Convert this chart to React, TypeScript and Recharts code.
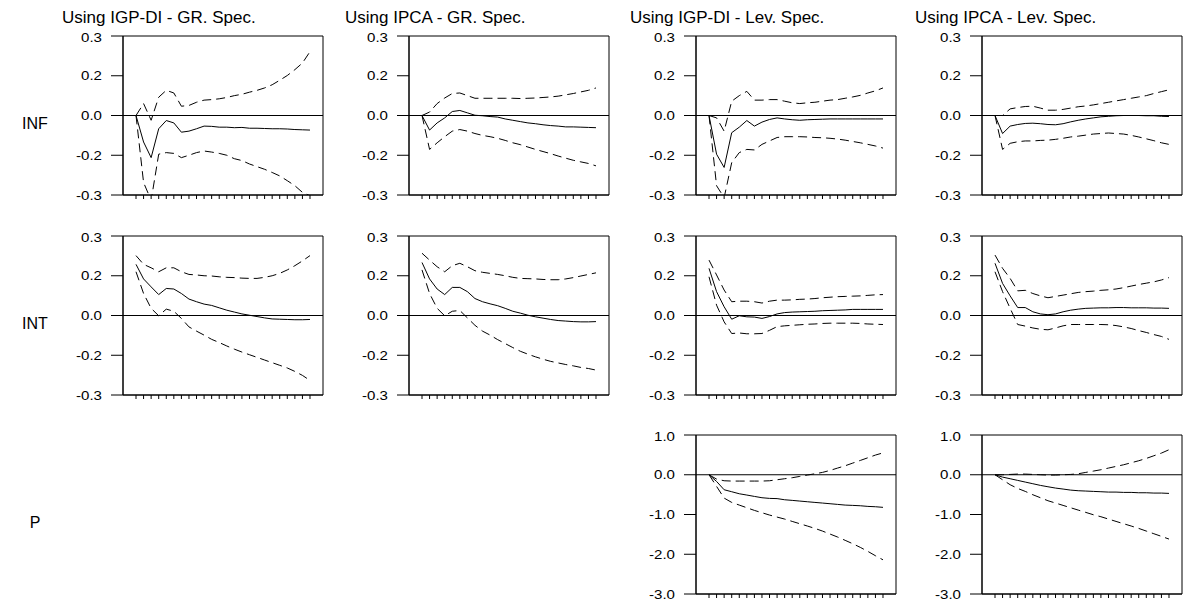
import React from 'react';
import { LineChart, Line, XAxis, YAxis, ReferenceLine, ReferenceArea } from 'recharts';

// horizon: 24 periods after the shock
const periods = [1, 2, 3, 4, 5, 6, 7, 8, 9, 10, 11, 12, 13, 14, 15, 16, 17, 18, 19, 20, 21, 22, 23, 24];

const colTitles = ['Using IGP-DI - GR. Spec.', 'Using IPCA - GR. Spec.', 'Using IGP-DI - Lev. Spec.', 'Using IPCA - Lev. Spec.'];
const rowNames = ['INF', 'INT', 'P'];

const smallTicks = [-0.3, -0.15, 0, 0.15, 0.3];
const smallTickLabels = ['-0.3', '-0.2', '0.0', '0.2', '0.3'];
const bigTicks = [-3, -2, -1, 0, 1];
const bigTickLabels = ['-3.0', '-2.0', '-1.0', '0.0', '1.0'];

// INF responses
const infIgpGr = [0, -0.1, -0.159, -0.05, -0.019, -0.028, -0.063, -0.059, -0.05, -0.04, -0.041, -0.044, -0.044, -0.046, -0.045, -0.048, -0.048, -0.049, -0.05, -0.05, -0.051, -0.053, -0.054, -0.055];
const infIgpGrHi = [0, 0.045, -0.018, 0.069, 0.095, 0.085, 0.035, 0.038, 0.05, 0.058, 0.06, 0.063, 0.068, 0.075, 0.08, 0.088, 0.095, 0.104, 0.116, 0.133, 0.151, 0.173, 0.198, 0.241];
const infIgpGrLo = [0, -0.253, -0.32, -0.146, -0.14, -0.143, -0.159, -0.15, -0.14, -0.134, -0.138, -0.143, -0.15, -0.163, -0.17, -0.183, -0.193, -0.203, -0.215, -0.228, -0.246, -0.265, -0.29, -0.303];

const infIpcaGr = [0, -0.055, -0.028, -0.009, 0.015, 0.019, 0.01, 0.001, -0.001, -0.004, -0.006, -0.013, -0.018, -0.023, -0.028, -0.031, -0.035, -0.038, -0.04, -0.043, -0.043, -0.044, -0.045, -0.046];
const infIpcaGrHi = [0, 0.013, 0.045, 0.066, 0.083, 0.085, 0.075, 0.065, 0.065, 0.065, 0.065, 0.065, 0.065, 0.064, 0.065, 0.066, 0.068, 0.07, 0.073, 0.078, 0.083, 0.089, 0.095, 0.104];
const infIpcaGrLo = [0, -0.128, -0.103, -0.08, -0.059, -0.053, -0.059, -0.068, -0.075, -0.08, -0.086, -0.094, -0.103, -0.11, -0.119, -0.128, -0.136, -0.144, -0.153, -0.161, -0.169, -0.175, -0.181, -0.19];

const infIgpLev = [0, -0.146, -0.196, -0.065, -0.044, -0.019, -0.04, -0.025, -0.015, -0.009, -0.013, -0.016, -0.018, -0.016, -0.015, -0.014, -0.013, -0.013, -0.013, -0.013, -0.013, -0.013, -0.013, -0.013];
const infIgpLevHi = [0, -0.009, -0.059, 0.054, 0.075, 0.091, 0.058, 0.058, 0.06, 0.06, 0.054, 0.048, 0.045, 0.048, 0.05, 0.054, 0.058, 0.06, 0.065, 0.07, 0.076, 0.085, 0.093, 0.104];
const infIgpLevLo = [0, -0.265, -0.31, -0.178, -0.14, -0.128, -0.13, -0.109, -0.096, -0.083, -0.08, -0.08, -0.08, -0.081, -0.083, -0.084, -0.086, -0.089, -0.093, -0.098, -0.103, -0.109, -0.115, -0.123];

const infIpcaLev = [0, -0.068, -0.04, -0.034, -0.03, -0.029, -0.031, -0.034, -0.035, -0.031, -0.024, -0.018, -0.013, -0.009, -0.005, -0.003, -0.001, 0, 0, 0, -0.001, -0.001, -0.003, -0.004];
const infIpcaLevHi = [0, 0, 0.025, 0.03, 0.034, 0.035, 0.028, 0.02, 0.02, 0.023, 0.028, 0.033, 0.036, 0.04, 0.045, 0.05, 0.055, 0.06, 0.065, 0.07, 0.075, 0.083, 0.09, 0.097];
const infIpcaLevLo = [0, -0.128, -0.105, -0.099, -0.096, -0.096, -0.094, -0.093, -0.09, -0.086, -0.081, -0.078, -0.074, -0.07, -0.068, -0.066, -0.068, -0.07, -0.075, -0.081, -0.088, -0.095, -0.103, -0.109];

// INT responses
const intIgpGr = [0.193, 0.138, 0.108, 0.079, 0.102, 0.1, 0.083, 0.062, 0.052, 0.043, 0.038, 0.029, 0.02, 0.013, 0.006, 0.001, -0.004, -0.009, -0.013, -0.014, -0.015, -0.016, -0.016, -0.015];
const intIgpGrHi = [0.226, 0.193, 0.18, 0.165, 0.18, 0.18, 0.165, 0.155, 0.153, 0.15, 0.149, 0.146, 0.144, 0.143, 0.141, 0.14, 0.14, 0.144, 0.15, 0.159, 0.172, 0.188, 0.206, 0.226];
const intIgpGrLo = [0.165, 0.083, 0.027, -0.001, 0.024, 0.016, -0.011, -0.043, -0.059, -0.074, -0.09, -0.102, -0.115, -0.127, -0.138, -0.148, -0.158, -0.168, -0.178, -0.188, -0.198, -0.211, -0.226, -0.245];

const intIpcaGr = [0.2, 0.138, 0.1, 0.079, 0.106, 0.106, 0.09, 0.064, 0.052, 0.044, 0.037, 0.027, 0.016, 0.009, 0.001, -0.005, -0.01, -0.015, -0.019, -0.021, -0.023, -0.024, -0.024, -0.023];
const intIpcaGrHi = [0.235, 0.209, 0.184, 0.165, 0.188, 0.197, 0.184, 0.169, 0.163, 0.159, 0.155, 0.15, 0.144, 0.14, 0.139, 0.138, 0.136, 0.135, 0.135, 0.138, 0.143, 0.149, 0.155, 0.161];
const intIpcaGrLo = [0.172, 0.083, 0.027, -0.001, 0.016, 0.019, -0.009, -0.037, -0.059, -0.074, -0.091, -0.106, -0.121, -0.135, -0.146, -0.156, -0.165, -0.173, -0.179, -0.185, -0.19, -0.196, -0.2, -0.206];

const intIgpLev = [0.178, 0.09, 0.033, -0.014, -0.001, -0.005, -0.006, -0.011, -0.004, 0.006, 0.011, 0.013, 0.014, 0.015, 0.016, 0.018, 0.019, 0.02, 0.021, 0.023, 0.023, 0.023, 0.023, 0.023];
const intIgpLevHi = [0.209, 0.153, 0.096, 0.052, 0.054, 0.054, 0.052, 0.047, 0.054, 0.058, 0.058, 0.059, 0.061, 0.062, 0.064, 0.067, 0.069, 0.071, 0.072, 0.073, 0.074, 0.076, 0.078, 0.079];
const intIgpLevLo = [0.146, 0.039, -0.024, -0.068, -0.066, -0.069, -0.069, -0.068, -0.056, -0.042, -0.039, -0.037, -0.035, -0.033, -0.032, -0.03, -0.029, -0.029, -0.029, -0.029, -0.03, -0.032, -0.033, -0.034];

const intIpcaLev = [0.197, 0.121, 0.074, 0.03, 0.03, 0.014, 0.006, 0.003, 0.006, 0.014, 0.02, 0.024, 0.027, 0.028, 0.029, 0.029, 0.03, 0.03, 0.029, 0.029, 0.029, 0.028, 0.028, 0.027];
const intIpcaLevHi = [0.228, 0.178, 0.14, 0.093, 0.095, 0.083, 0.074, 0.067, 0.072, 0.077, 0.082, 0.087, 0.09, 0.092, 0.095, 0.097, 0.1, 0.105, 0.111, 0.117, 0.122, 0.127, 0.134, 0.143];
const intIpcaLevLo = [0.165, 0.09, 0.027, -0.034, -0.04, -0.047, -0.052, -0.054, -0.047, -0.039, -0.034, -0.034, -0.034, -0.034, -0.034, -0.035, -0.038, -0.043, -0.049, -0.057, -0.064, -0.072, -0.079, -0.09];

// P responses
const pIgpLev = [0, -0.168, -0.377, -0.427, -0.478, -0.511, -0.545, -0.578, -0.595, -0.6, -0.629, -0.645, -0.662, -0.679, -0.696, -0.712, -0.729, -0.746, -0.763, -0.771, -0.78, -0.796, -0.805, -0.82];
const pIgpLevHi = [0, -0.109, -0.151, -0.159, -0.159, -0.159, -0.159, -0.159, -0.151, -0.126, -0.1, -0.075, -0.042, -0.008, 0.025, 0.059, 0.109, 0.168, 0.226, 0.293, 0.36, 0.427, 0.495, 0.55];
const pIgpLevLo = [0, -0.293, -0.587, -0.696, -0.763, -0.83, -0.897, -0.956, -1.014, -1.065, -1.115, -1.174, -1.232, -1.29, -1.35, -1.417, -1.492, -1.567, -1.65, -1.735, -1.827, -1.928, -2.037, -2.14];

const pIpcaLev = [0, -0.059, -0.1, -0.142, -0.184, -0.226, -0.268, -0.302, -0.335, -0.36, -0.386, -0.402, -0.41, -0.419, -0.427, -0.436, -0.436, -0.444, -0.444, -0.453, -0.453, -0.461, -0.461, -0.469];
const pIpcaLevHi = [0, 0, 0.008, 0.017, 0.017, 0.008, 0, -0.008, -0.008, 0, 0.008, 0.025, 0.059, 0.092, 0.126, 0.168, 0.21, 0.251, 0.302, 0.352, 0.411, 0.478, 0.545, 0.629];
const pIpcaLevLo = [0, -0.126, -0.251, -0.344, -0.419, -0.503, -0.578, -0.654, -0.712, -0.771, -0.83, -0.889, -0.947, -1.006, -1.056, -1.115, -1.174, -1.232, -1.29, -1.35, -1.417, -1.484, -1.55, -1.618];

const PLOT_W = 200;
const PLOT_H = 159;
const colLeft = [123, 409, 696, 982];
const rowTop = [36, 236, 435];
const titleX = [62, 345, 630, 915];
const FONT = '"Liberation Sans", Arial, sans-serif';

// y tick labels are a bit wider than the font in the original, so stretch them a little
const StretchedTick = (props: any) => {
  const { x, y, payload, labels, ticks } = props;
  const text = labels[ticks.indexOf(payload.value)];
  return (
    <text
      transform={`translate(${x},${y}) scale(1.16,1)`}
      textAnchor="end"
      dy="0.35em"
      fontSize={13}
      fontFamily={FONT}
      fill="#000"
    >
      {text}
    </text>
  );
};

interface PanelProps {
  col: number;
  row: number;
  mid: number[];
  hi: number[];
  lo: number[];
  big?: boolean;
}

const Panel: React.FC<PanelProps> = ({ col, row, mid, hi, lo, big }) => {
  const data = periods.map((p, i) => ({ p, mid: mid[i], hi: hi[i], lo: lo[i] }));
  const ticks = big ? bigTicks : smallTicks;
  const labels = big ? bigTickLabels : smallTickLabels;
  const domain: [number, number] = big ? [-3, 1] : [-0.3, 0.3];
  const xDomain: [number, number] = [-0.72, 25.72];
  return (
    <div style={{ position: 'absolute', left: colLeft[col] - 60, top: rowTop[row] - 8 }}>
      <LineChart width={60 + PLOT_W + 4} height={8 + PLOT_H + 14} data={data} margin={{ top: 8, right: 4, bottom: 0, left: 0 }}>
        <XAxis
          dataKey="p"
          type="number"
          domain={xDomain}
          ticks={periods}
          tickFormatter={() => ''}
          tickSize={4}
          height={14}
          axisLine={{ stroke: '#000' }}
          tickLine={{ stroke: '#000' }}
        />
        <YAxis
          type="number"
          domain={domain}
          ticks={ticks}
          allowDataOverflow
          width={60}
          tickSize={12}
          tickMargin={9}
          tick={<StretchedTick labels={labels} ticks={ticks} />}
          axisLine={{ stroke: '#000' }}
          tickLine={{ stroke: '#000' }}
        />
        {/* panel frame */}
        <ReferenceArea x1={xDomain[0]} x2={xDomain[1]} y1={domain[0]} y2={domain[1]} fill="none" fillOpacity={0} stroke="#000" strokeWidth={1} />
        <ReferenceLine y={0} stroke="#000" strokeWidth={1} />
        <Line type="linear" dataKey="hi" stroke="#000" strokeWidth={1} strokeDasharray="9 5" dot={false} isAnimationActive={false} />
        <Line type="linear" dataKey="lo" stroke="#000" strokeWidth={1} strokeDasharray="9 5" dot={false} isAnimationActive={false} />
        <Line type="linear" dataKey="mid" stroke="#000" strokeWidth={1} dot={false} isAnimationActive={false} />
      </LineChart>
    </div>
  );
};

export default function App() {
  return (
    <div style={{ position: 'absolute', left: 0, top: 0, width: 1186, height: 603, background: '#fff', fontFamily: FONT }}>
      <svg width={1186} height={603} style={{ position: 'absolute', left: 0, top: 0 }}>
        {colTitles.map((t, i) => (
          <text key={t} x={titleX[i]} y={23} fontSize={17} fontFamily={FONT} fill="#000">{t}</text>
        ))}
        {rowNames.map((r, i) => (
          <text key={r} x={35} y={rowTop[i] + PLOT_H / 2 + 13} fontSize={16} fontFamily={FONT} fill="#000" textAnchor="middle">{r}</text>
        ))}
      </svg>
      <Panel col={0} row={0} mid={infIgpGr} hi={infIgpGrHi} lo={infIgpGrLo} />
      <Panel col={1} row={0} mid={infIpcaGr} hi={infIpcaGrHi} lo={infIpcaGrLo} />
      <Panel col={2} row={0} mid={infIgpLev} hi={infIgpLevHi} lo={infIgpLevLo} />
      <Panel col={3} row={0} mid={infIpcaLev} hi={infIpcaLevHi} lo={infIpcaLevLo} />
      <Panel col={0} row={1} mid={intIgpGr} hi={intIgpGrHi} lo={intIgpGrLo} />
      <Panel col={1} row={1} mid={intIpcaGr} hi={intIpcaGrHi} lo={intIpcaGrLo} />
      <Panel col={2} row={1} mid={intIgpLev} hi={intIgpLevHi} lo={intIgpLevLo} />
      <Panel col={3} row={1} mid={intIpcaLev} hi={intIpcaLevHi} lo={intIpcaLevLo} />
      <Panel col={2} row={2} mid={pIgpLev} hi={pIgpLevHi} lo={pIgpLevLo} big />
      <Panel col={3} row={2} mid={pIpcaLev} hi={pIpcaLevHi} lo={pIpcaLevLo} big />
    </div>
  );
}
